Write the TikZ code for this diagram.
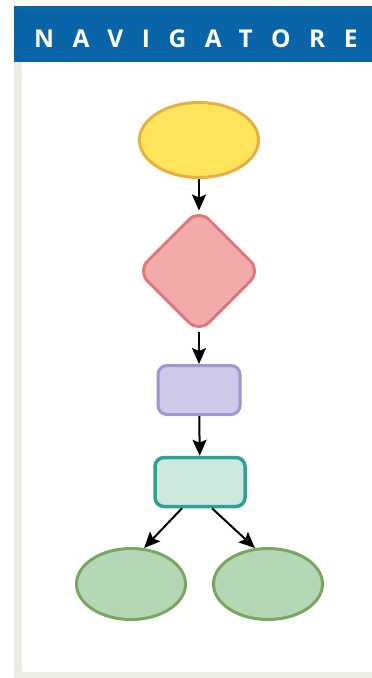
\documentclass[tikz,border=0pt]{standalone}
\usepackage{fontspec}
\newfontfamily\bannerfont[LetterSpace=76]{Open Sans}
\usetikzlibrary{shapes.geometric,arrows.meta}

\definecolor{navblue}{RGB}{10,100,168}
\definecolor{framegray}{RGB}{236,236,228}
\definecolor{yelfill}{RGB}{255,228,92}
\definecolor{yeldraw}{RGB}{232,176,64}
\definecolor{redfill}{RGB}{242,170,170}
\definecolor{reddraw}{RGB}{224,120,120}
\definecolor{lilfill}{RGB}{206,201,232}
\definecolor{lildraw}{RGB}{160,150,206}
\definecolor{tealfill}{RGB}{206,232,224}
\definecolor{tealdraw}{RGB}{42,163,146}
\definecolor{grnfill}{RGB}{182,215,182}
\definecolor{grndraw}{RGB}{120,168,96}

\begin{document}
\begin{tikzpicture}[x=1pt,y=-1pt,
  start node/.style={ellipse,draw=yeldraw,fill=yelfill,line width=3pt,
    minimum width=119pt,minimum height=75pt},
  test node/.style={diamond,draw=reddraw,fill=redfill,line width=3pt,
    rounded corners=14pt,minimum width=124pt,minimum height=124pt},
  step node/.style={rectangle,rounded corners=9pt,line width=3pt,
    minimum width=82pt,minimum height=49pt},
  end node/.style={ellipse,draw=grndraw,fill=grnfill,line width=3pt,
    minimum width=109pt,minimum height=71pt},
  flow/.style={-{Stealth[length=16pt,width=14pt,inset=3pt]},line width=2pt}]

  \useasboundingbox (0,0) rectangle (372,678);

  % frame and banner
  \fill[framegray] (14,62) rectangle (22,678);
  \fill[framegray] (14,672) rectangle (372,678);
  \fill[navblue] (14,6) rectangle (372,62);
  \node[anchor=base west,inner sep=0pt,text=white,font=\bannerfont\bfseries\fontsize{24.5}{24.5}\selectfont]
    (title) at (34,47) {NAVIGATORE};

  % flow chart
  \node[start node] (start) at (199,140) {};
  \node[test node] (test) at (199,271) {};
  \node[step node,draw=lildraw,fill=lilfill] (step1) at (199,390) {};
  \node[step node,draw=tealdraw,fill=tealfill,line width=3.5pt,minimum width=90pt] (step2) at (200,482) {};
  \node[end node] (left) at (131,584) {};
  \node[end node] (right) at (268,584) {};

  \draw[flow] (start) -- ([yshift=-3pt]test.north);
  \draw[flow] ([yshift=3pt]test.south) -- (step1);
  \draw[flow] (step1) -- (step2);
  \draw[flow] ([xshift=-18pt]step2.south) -- (left.70);
  \draw[flow] ([xshift=12pt]step2.south) -- (right.110);
\end{tikzpicture}
\end{document}
